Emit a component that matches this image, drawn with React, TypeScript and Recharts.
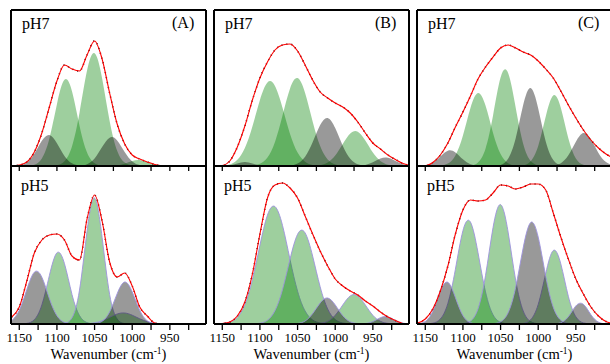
import { ComposedChart, Area, Line, XAxis, YAxis, ReferenceLine } from 'recharts'

const SERIF = "'Liberation Serif', 'Times New Roman', serif"

// shared wavenumber grid (cm-1), high to low
const wavenumber = [1160, 1150, 1140, 1130, 1120, 1110, 1100, 1090, 1080, 1070, 1060, 1050, 1040, 1030, 1020, 1010, 1000, 990, 980, 970, 960, 950, 940, 930, 920, 910, 900]
const xTicks = [1150, 1125, 1100, 1075, 1050, 1025, 1000, 975, 950, 925]

// ---- (A) pH7 : bands ~1111, 1088, 1051, 1027, 992
const a7Gray1 = [0, 0.6, 3.6, 12.3, 25.2, 31, 22.8, 10.1, 2.7, 0.4, 0, 0, 0, 0, 0, 0, 0, 0, 0, 0, 0, 0, 0, 0, 0, 0, 0]
const a7Green1 = [0, 0, 0.1, 1.3, 7.6, 27.5, 61.8, 86.2, 74.7, 40.3, 13.5, 2.8, 0.4, 0, 0, 0, 0, 0, 0, 0, 0, 0, 0, 0, 0, 0, 0]
const a7Green2 = [0, 0, 0, 0, 0, 0, 0.8, 4.8, 19.6, 53.3, 95.5, 112.8, 87.8, 45.1, 15.3, 3.4, 0.5, 0, 0, 0, 0, 0, 0, 0, 0, 0, 0]
const a7Gray2 = [0, 0, 0, 0, 0, 0, 0, 0, 0, 0.3, 1.8, 7.5, 18.9, 28.3, 25.6, 13.9, 4.5, 0.9, 0.1, 0, 0, 0, 0, 0, 0, 0, 0]
const a7Green3 = [0, 0, 0, 0, 0, 0, 0, 0, 0, 0, 0, 0, 0, 0.1, 0.6, 2.3, 5, 5.9, 3.9, 1.4, 0.3, 0, 0, 0, 0, 0, 0]
const a7Fit = [0, 1, 4, 14, 33, 59, 85, 101, 97, 95, 111, 125, 107, 73, 42, 22, 11, 7, 4, 1.5, 0.3, 0, 0, 0, 0, 0, 0]

// ---- (A) pH5 : bands ~1127, 1098, 1050, 1010 (+ broad 1012)
const a5Gray1 = [3.3, 13.7, 34.4, 51.8, 46.8, 25.4, 8.3, 1.6, 0.2, 0, 0, 0, 0, 0, 0, 0, 0, 0, 0, 0, 0, 0, 0, 0, 0, 0, 0]
const a5Green1 = [0, 0, 0.6, 4.3, 19.1, 48.5, 71.2, 60.4, 29.6, 8.4, 1.4, 0.1, 0, 0, 0, 0, 0, 0, 0, 0, 0, 0, 0, 0, 0, 0, 0]
const a5Green2 = [0, 0, 0, 0, 0, 0, 0, 0.6, 6.2, 33.9, 92.8, 126, 86.6, 29.5, 5, 0.4, 0, 0, 0, 0, 0, 0, 0, 0, 0, 0, 0]
const a5Gray2 = [0, 0, 0, 0, 0, 0, 0, 0, 0, 0, 0, 0.3, 2.7, 12.1, 30.3, 42, 32.2, 13.6, 3.2, 0.4, 0, 0, 0, 0, 0, 0, 0]
const a5Green3 = [0, 0, 0, 0, 0, 0, 0, 0, 0, 0, 0.3, 1.2, 3.3, 6.7, 10, 11, 8.8, 5.2, 2.3, 0.7, 0.1, 0, 0, 0, 0, 0, 0]
const a5Fit = [7, 17, 43, 71, 84, 89, 90, 84, 68, 64, 105, 129, 103, 62, 47, 51, 38, 17, 8, 1, 0, 0, 0, 0, 0, 0, 0]

// ---- (B) pH7 : bands ~1120, 1087, 1051, 1011, 974, 934
const b7Gray0 = [0, 0, 0.5, 2.4, 4, 2.4, 0.5, 0, 0, 0, 0, 0, 0, 0, 0, 0, 0, 0, 0, 0, 0, 0, 0, 0, 0, 0, 0]
const b7Green1 = [0, 0.3, 1.6, 6.2, 18, 39.6, 66, 83.6, 80.1, 58.3, 32.1, 13.4, 4.3, 1, 0.2, 0, 0, 0, 0, 0, 0, 0, 0, 0, 0, 0, 0]
const b7Green2 = [0, 0, 0, 0, 0, 0.4, 2.2, 8.4, 24, 50.4, 77.6, 87.9, 73, 44.6, 20, 6.6, 1.6, 0.3, 0, 0, 0, 0, 0, 0, 0, 0, 0]
const b7Gray1 = [0, 0, 0, 0, 0, 0, 0, 0, 0, 0, 0.4, 2.5, 9.3, 23.7, 41, 48, 37.9, 20.3, 7.3, 1.8, 0.3, 0, 0, 0, 0, 0, 0]
const b7Green3 = [0, 0, 0, 0, 0, 0, 0, 0, 0, 0, 0, 0, 0, 0.1, 0.8, 3.5, 10.4, 21.9, 32.5, 34.3, 25.5, 13.5, 5, 1.3, 0.3, 0, 0]
const b7Gray2 = [0, 0, 0, 0, 0, 0, 0, 0, 0, 0, 0, 0, 0, 0, 0, 0, 0, 0, 0, 0.2, 1.1, 3.8, 7.5, 8.2, 5, 1.7, 0.3]
const b7Fit = [0, 0.5, 5, 19, 40, 66, 88, 104, 116, 121, 122, 115, 101, 86, 74, 68, 63, 59, 53, 44, 33, 23, 17, 11, 6.5, 2.5, 0.5]

// ---- (B) pH5 : bands ~1082, 1045, 1011, 975, 934
const b5Green1 = [0, 0.4, 1.8, 6.6, 19.4, 44.3, 78.7, 108.9, 117.4, 98.6, 64.4, 32.8, 13, 4, 1, 0.2, 0, 0, 0, 0, 0, 0, 0, 0, 0, 0, 0]
const b5Green2 = [0, 0, 0, 0, 0, 0, 0.8, 3.8, 13.4, 34.5, 64.9, 89.7, 91.1, 67.9, 37.2, 15, 4.4, 1, 0.2, 0, 0, 0, 0, 0, 0, 0, 0]
const b5Gray1 = [0, 0, 0, 0, 0, 0, 0, 0, 0, 0, 0, 0.5, 3, 10.4, 21.1, 26, 19.1, 8.4, 2.2, 0.4, 0, 0, 0, 0, 0, 0, 0]
const b5Green3 = [0, 0, 0, 0, 0, 0, 0, 0, 0, 0, 0, 0, 0, 0.1, 0.6, 2.7, 8.7, 19, 28.1, 28.1, 19, 8.7, 2.7, 0.6, 0.1, 0, 0]
const b5Gray2 = [0, 0, 0, 0, 0, 0, 0, 0, 0, 0, 0, 0, 0, 0, 0, 0, 0, 0, 0, 0, 0.4, 2.4, 6.3, 7.1, 3.5, 0.8, 0.1]
const b5Fit = [0, 0.5, 2, 8, 22, 50, 90, 126, 139, 141, 136, 126, 108, 90, 73, 58, 45, 38, 33, 29, 23, 18, 12, 7, 3.5, 0.5, 0]

// ---- (C) pH7 : bands ~1117, 1080, 1044, 1011, 979, 939
const c7Gray0 = [0.1, 0.6, 3.3, 9.5, 15.3, 13.6, 6.7, 1.8, 0.3, 0, 0, 0, 0, 0, 0, 0, 0, 0, 0, 0, 0, 0, 0, 0, 0, 0, 0]
const c7Green1 = [0, 0, 0, 0.4, 2.4, 10.5, 30.4, 58, 73, 60.5, 33.1, 11.9, 2.8, 0.4, 0, 0, 0, 0, 0, 0, 0, 0, 0, 0, 0, 0, 0]
const c7Green2 = [0, 0, 0, 0, 0, 0, 0, 0.4, 3.6, 17.3, 50.5, 88.5, 93.1, 58.8, 22.3, 5.1, 0.7, 0, 0, 0, 0, 0, 0, 0, 0, 0, 0]
const c7Gray1 = [0, 0, 0, 0, 0, 0, 0, 0, 0, 0, 0.1, 1.1, 7.2, 27.5, 60.9, 78, 57.6, 24.6, 6.1, 0.9, 0.1, 0, 0, 0, 0, 0, 0]
const c7Green3 = [0, 0, 0, 0, 0, 0, 0, 0, 0, 0, 0, 0, 0, 0, 0.6, 4.7, 20, 49.4, 70.6, 58.2, 27.8, 7.6, 1.2, 0.1, 0, 0, 0]
const c7Gray2 = [0, 0, 0, 0, 0, 0, 0, 0, 0, 0, 0, 0, 0, 0, 0, 0, 0, 0, 0.5, 2.8, 10.7, 24.2, 33, 26.8, 13.1, 3.9, 0.7]
const c7Fit = [0, 0.3, 3.5, 11, 23, 39, 54, 70, 87, 99, 109, 118, 121, 118, 114, 111, 105, 97, 88, 75, 61, 48, 36, 26, 18, 12, 8]

// ---- (C) pH5 : bands ~1122, 1093, 1051, 1009, 979, 944
const c5Gray1 = [0.2, 2.5, 12.8, 32.7, 41.7, 26.5, 8.4, 1.3, 0.1, 0, 0, 0, 0, 0, 0, 0, 0, 0, 0, 0, 0, 0, 0, 0, 0, 0, 0]
const c5Green1 = [0, 0.1, 0.8, 5, 20.6, 54.7, 93.3, 101.9, 71.4, 32.1, 9.2, 1.7, 0.2, 0, 0, 0, 0, 0, 0, 0, 0, 0, 0, 0, 0, 0, 0]
const c5Green2 = [0, 0, 0, 0, 0, 0, 0.4, 2.9, 15.1, 48.4, 96.4, 119.4, 91.9, 44, 13.1, 2.4, 0.3, 0, 0, 0, 0, 0, 0, 0, 0, 0, 0]
const c5Gray2 = [0, 0, 0, 0, 0, 0, 0, 0, 0, 0, 0.3, 2.2, 11.2, 36.5, 76, 101.5, 86.9, 47.7, 16.8, 3.8, 0.5, 0, 0, 0, 0, 0, 0]
const c5Green3 = [0, 0, 0, 0, 0, 0, 0, 0, 0, 0, 0, 0, 0, 0, 0.5, 4.3, 19.6, 50.6, 73.5, 60.1, 27.7, 7.2, 1.1, 0.1, 0, 0, 0]
const c5Gray3 = [0, 0, 0, 0, 0, 0, 0, 0, 0, 0, 0, 0, 0, 0, 0, 0, 0, 0, 0.1, 1.3, 7.3, 18.1, 19.7, 9.3, 1.9, 0.2, 0]
const c5Fit = [1, 5, 15, 33, 58, 90, 114, 124, 123, 124, 131, 139, 138, 135, 137, 140, 140, 134, 111, 87, 65, 45, 30, 17, 8, 2.5, 0.5]

type Tone = 'green' | 'gray'
interface Band { key: string; values: number[]; tone: Tone }

const FILL: Record<Tone, { color: string; opacity: number }> = {
  green: { color: '#008000', opacity: 0.38 },
  gray: { color: '#000000', opacity: 0.4 },
}

const PLOT_W = 195
const PAD = 20
const X_DOMAIN: [number, number] = [902, 1161]
const TOP_Y = 10
const MID_Y = 166
const BOT_Y = 324
const PANEL_X = [11, 214, 417]

function toRows(bands: Band[], fit: number[]) {
  return wavenumber.map((wn, i) => {
    const row: Record<string, number> = { wn, fit: fit[i] }
    bands.forEach(b => { row[b.key] = b.values[i] })
    return row
  })
}

const axisTitle = (props: any) => {
  const vb = props.viewBox ?? { x: PAD, y: 160, width: PLOT_W, height: 40 }
  return (
    <text x={vb.x + vb.width / 2} y={vb.y + 35} textAnchor="middle" fontSize={14.5} fontFamily={SERIF} fill="#000">
      <tspan>Wavenumber (cm</tspan>
      <tspan dy={-5} fontSize={9.5}>-1</tspan>
      <tspan dy={5}>)</tspan>
    </text>
  )
}

const frameLine = { stroke: '#000', strokeWidth: 2 }

interface SpectrumProps {
  bands: Band[]
  fit: number[]
  left: number
  top: number
  plotH: number
  bottom?: boolean
}

function Spectrum({ bands, fit, left, top, plotH, bottom = false }: SpectrumProps) {
  const axisH = bottom ? 40 : 8
  const rows = toRows(bands, fit)
  const ordered = [...bands.filter(b => b.tone === 'green'), ...bands.filter(b => b.tone === 'gray')]
  return (
    <div style={{ position: 'absolute', left: left - PAD, top: top - 2, fontFamily: SERIF }}>
      <ComposedChart
        width={PLOT_W + 2 * PAD}
        height={plotH + axisH + 2}
        data={rows}
        margin={{ top: 2, right: PAD, bottom: 0, left: PAD }}
        style={{ fontFamily: SERIF }}
      >
        <XAxis
          dataKey="wn"
          type="number"
          domain={X_DOMAIN}
          reversed
          allowDataOverflow
          ticks={xTicks}
          interval={0}
          height={axisH}
          tickSize={bottom ? 6 : 5}
          tickMargin={3}
          tickFormatter={(v: number) => (bottom && v % 50 === 0 ? String(v) : '')}
          tick={{ fill: '#000', fontSize: 13, fontFamily: SERIF }}
          axisLine={frameLine}
          tickLine={{ stroke: '#000', strokeWidth: 1.3 }}
          label={bottom ? axisTitle : undefined}
        />
        <YAxis hide domain={[0, plotH]} allowDataOverflow />
        {ordered.map(b => (
          <Area
            key={b.key}
            type="natural"
            dataKey={b.key}
            fill={FILL[b.tone].color}
            fillOpacity={FILL[b.tone].opacity}
            stroke={bottom ? '#9d92de' : 'none'}
            strokeWidth={0.9}
            dot={false}
            activeDot={false}
            isAnimationActive={false}
          />
        ))}
        <Line type="monotone" dataKey="fit" stroke="#000" strokeWidth={1.5} strokeDasharray="1 4" dot={false} activeDot={false} isAnimationActive={false} />
        <Line type="monotone" dataKey="fit" stroke="#ff0000" strokeWidth={1.1} dot={false} activeDot={false} isAnimationActive={false} />
        <ReferenceLine x={X_DOMAIN[1]} stroke="#000" strokeWidth={2} />
        <ReferenceLine x={X_DOMAIN[0]} stroke="#000" strokeWidth={2} />
        {!bottom && <ReferenceLine y={plotH} stroke="#000" strokeWidth={2} />}
      </ComposedChart>
    </div>
  )
}

const panels = [
  {
    letter: '(A)',
    ph7: [
      { key: 'g1', values: a7Green1, tone: 'green' },
      { key: 'g2', values: a7Green2, tone: 'green' },
      { key: 'g3', values: a7Green3, tone: 'green' },
      { key: 'k1', values: a7Gray1, tone: 'gray' },
      { key: 'k2', values: a7Gray2, tone: 'gray' },
    ] as Band[],
    fit7: a7Fit,
    ph5: [
      { key: 'g1', values: a5Green1, tone: 'green' },
      { key: 'g2', values: a5Green2, tone: 'green' },
      { key: 'g3', values: a5Green3, tone: 'green' },
      { key: 'k1', values: a5Gray1, tone: 'gray' },
      { key: 'k2', values: a5Gray2, tone: 'gray' },
    ] as Band[],
    fit5: a5Fit,
  },
  {
    letter: '(B)',
    ph7: [
      { key: 'g1', values: b7Green1, tone: 'green' },
      { key: 'g2', values: b7Green2, tone: 'green' },
      { key: 'g3', values: b7Green3, tone: 'green' },
      { key: 'k0', values: b7Gray0, tone: 'gray' },
      { key: 'k1', values: b7Gray1, tone: 'gray' },
      { key: 'k2', values: b7Gray2, tone: 'gray' },
    ] as Band[],
    fit7: b7Fit,
    ph5: [
      { key: 'g1', values: b5Green1, tone: 'green' },
      { key: 'g2', values: b5Green2, tone: 'green' },
      { key: 'g3', values: b5Green3, tone: 'green' },
      { key: 'k1', values: b5Gray1, tone: 'gray' },
      { key: 'k2', values: b5Gray2, tone: 'gray' },
    ] as Band[],
    fit5: b5Fit,
  },
  {
    letter: '(C)',
    ph7: [
      { key: 'g1', values: c7Green1, tone: 'green' },
      { key: 'g2', values: c7Green2, tone: 'green' },
      { key: 'g3', values: c7Green3, tone: 'green' },
      { key: 'k0', values: c7Gray0, tone: 'gray' },
      { key: 'k1', values: c7Gray1, tone: 'gray' },
      { key: 'k2', values: c7Gray2, tone: 'gray' },
    ] as Band[],
    fit7: c7Fit,
    ph5: [
      { key: 'g1', values: c5Green1, tone: 'green' },
      { key: 'g2', values: c5Green2, tone: 'green' },
      { key: 'g3', values: c5Green3, tone: 'green' },
      { key: 'k1', values: c5Gray1, tone: 'gray' },
      { key: 'k2', values: c5Gray2, tone: 'gray' },
      { key: 'k3', values: c5Gray3, tone: 'gray' },
    ] as Band[],
    fit5: c5Fit,
  },
]

const labelStyle: React.CSSProperties = {
  position: 'absolute',
  fontFamily: SERIF,
  fontSize: 16,
  lineHeight: '16px',
  color: '#000',
  whiteSpace: 'nowrap',
}

export default function App() {
  return (
    <div style={{ position: 'absolute', left: 0, top: 0, width: 610, height: 364, overflow: 'hidden', background: '#fff', fontFamily: SERIF }}>
      {panels.map((p, i) => (
        <div key={p.letter}>
          <Spectrum bands={p.ph7} fit={p.fit7} left={PANEL_X[i]} top={TOP_Y} plotH={MID_Y - TOP_Y} />
          <Spectrum bands={p.ph5} fit={p.fit5} left={PANEL_X[i]} top={MID_Y} plotH={BOT_Y - MID_Y} bottom />
          <span style={{ ...labelStyle, left: PANEL_X[i] + 11, top: 16 }}>pH7</span>
          <span style={{ ...labelStyle, left: PANEL_X[i] + 10, top: 178 }}>pH5</span>
          <span style={{ ...labelStyle, left: PANEL_X[i] + 161, top: 15 }}>{p.letter}</span>
        </div>
      ))}
    </div>
  )
}
